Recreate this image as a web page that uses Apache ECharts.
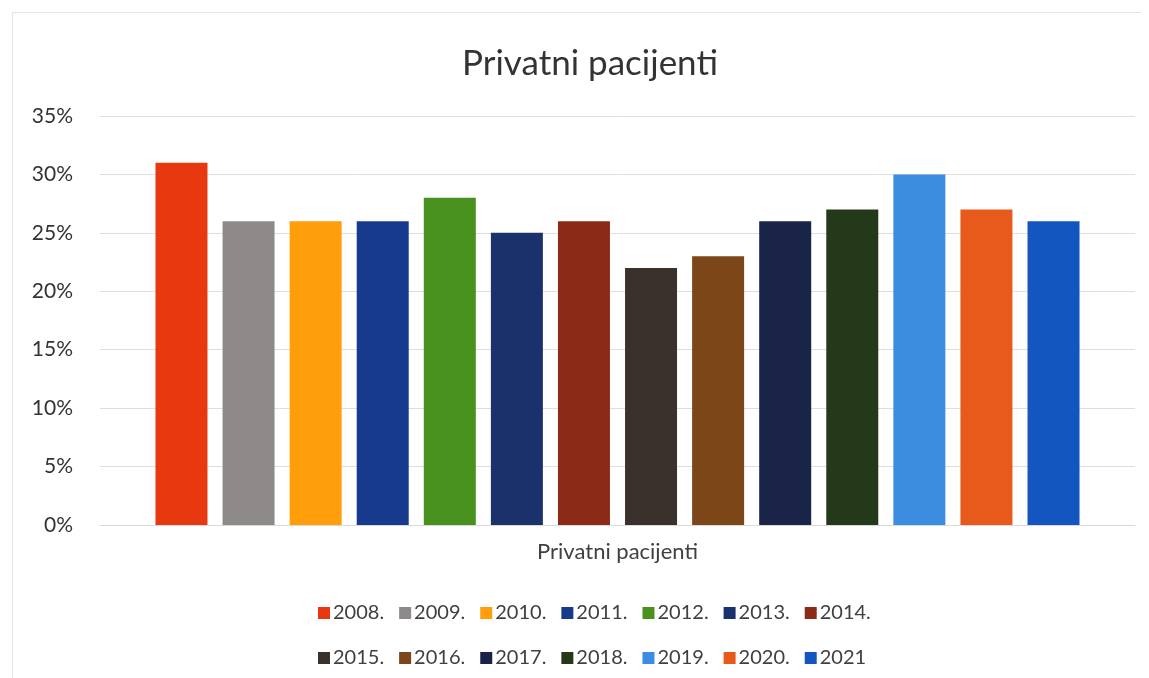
<!DOCTYPE html>
<html>
<head>
<meta charset="utf-8">
<script src="https://cdn.jsdelivr.net/npm/echarts@6/dist/echarts.min.js"></script>
<style>
  html, body { margin: 0; padding: 0; background: #fff; }
  #chart { width: 1149px; height: 678px; }
  #frame { position: absolute; left: 12px; top: 12px; width: 1128px; height: 680px;
           border-left: 1px solid #e4e4e4; border-top: 1px solid #e4e4e4; pointer-events: none; }
</style>
</head>
<body>
<div id="chart"></div>
<div id="frame"></div>
<script>
// godine (serije) i vrijednosti u %
const years = ['2008.', '2009.', '2010.', '2011.', '2012.', '2013.', '2014.',
  '2015.', '2016.', '2017.', '2018.', '2019.', '2020.', '2021']
const values = [31, 26, 26, 26, 28, 25, 26, 22, 23, 26, 27, 30, 27, 26]
const colors = ['#e8380f', '#8e8a8a', '#ff9d0a', '#183a8c', '#48911f', '#1a316b', '#8c2a18',
  '#3a302c', '#7c4618', '#1a2448', '#24391a', '#3c8ce0', '#e85a1c', '#1456c0']
const categories = ['Privatni pacijenti']
const yTicks = { min: 0, max: 35, interval: 5 }

const chart = echarts.init(document.getElementById('chart'))
const font = 'Lato, "Open Sans", sans-serif'

const series = years.map((y, i) => ({
  name: y,
  type: 'bar',
  data: [values[i]],
  barWidth: 52,
  barGap: '29%',
  itemStyle: { color: colors[i] }
}))

const legendBase = {
  left: 313,
  icon: 'rect',
  itemWidth: 12,
  itemHeight: 12,
  itemGap: 15,
  selectedMode: false,
  textStyle: { fontFamily: font, fontSize: 20, color: '#404040', padding: [0, 0, 0, -2] }
}

chart.setOption({
  title: {
    text: 'Privatni pacijenti',
    left: 457,
    top: 41,
    textStyle: { fontFamily: font, fontSize: 35, fontWeight: 'normal', color: '#333' }
  },
  legend: [
    Object.assign({}, legendBase, { top: 598, data: years.slice(0, 7) }),
    Object.assign({}, legendBase, { top: 643, data: years.slice(7) })
  ],
  grid: { left: 100, right: 14, top: 116, bottom: 153 },
  xAxis: {
    type: 'category',
    data: categories,
    axisLine: { show: true, lineStyle: { color: '#d9d9d9' } },
    axisTick: { show: false },
    axisLabel: { margin: 16, fontFamily: font, fontSize: 22, color: '#404040' }
  },
  yAxis: {
    type: 'value',
    min: yTicks.min,
    max: yTicks.max,
    interval: yTicks.interval,
    axisLine: { show: false },
    axisTick: { show: false },
    axisLabel: { margin: 27, formatter: '{value}%', fontFamily: font, fontSize: 21, color: '#333' },
    splitLine: { lineStyle: { color: '#dedede' } }
  },
  series
})
</script>
</body>
</html>
